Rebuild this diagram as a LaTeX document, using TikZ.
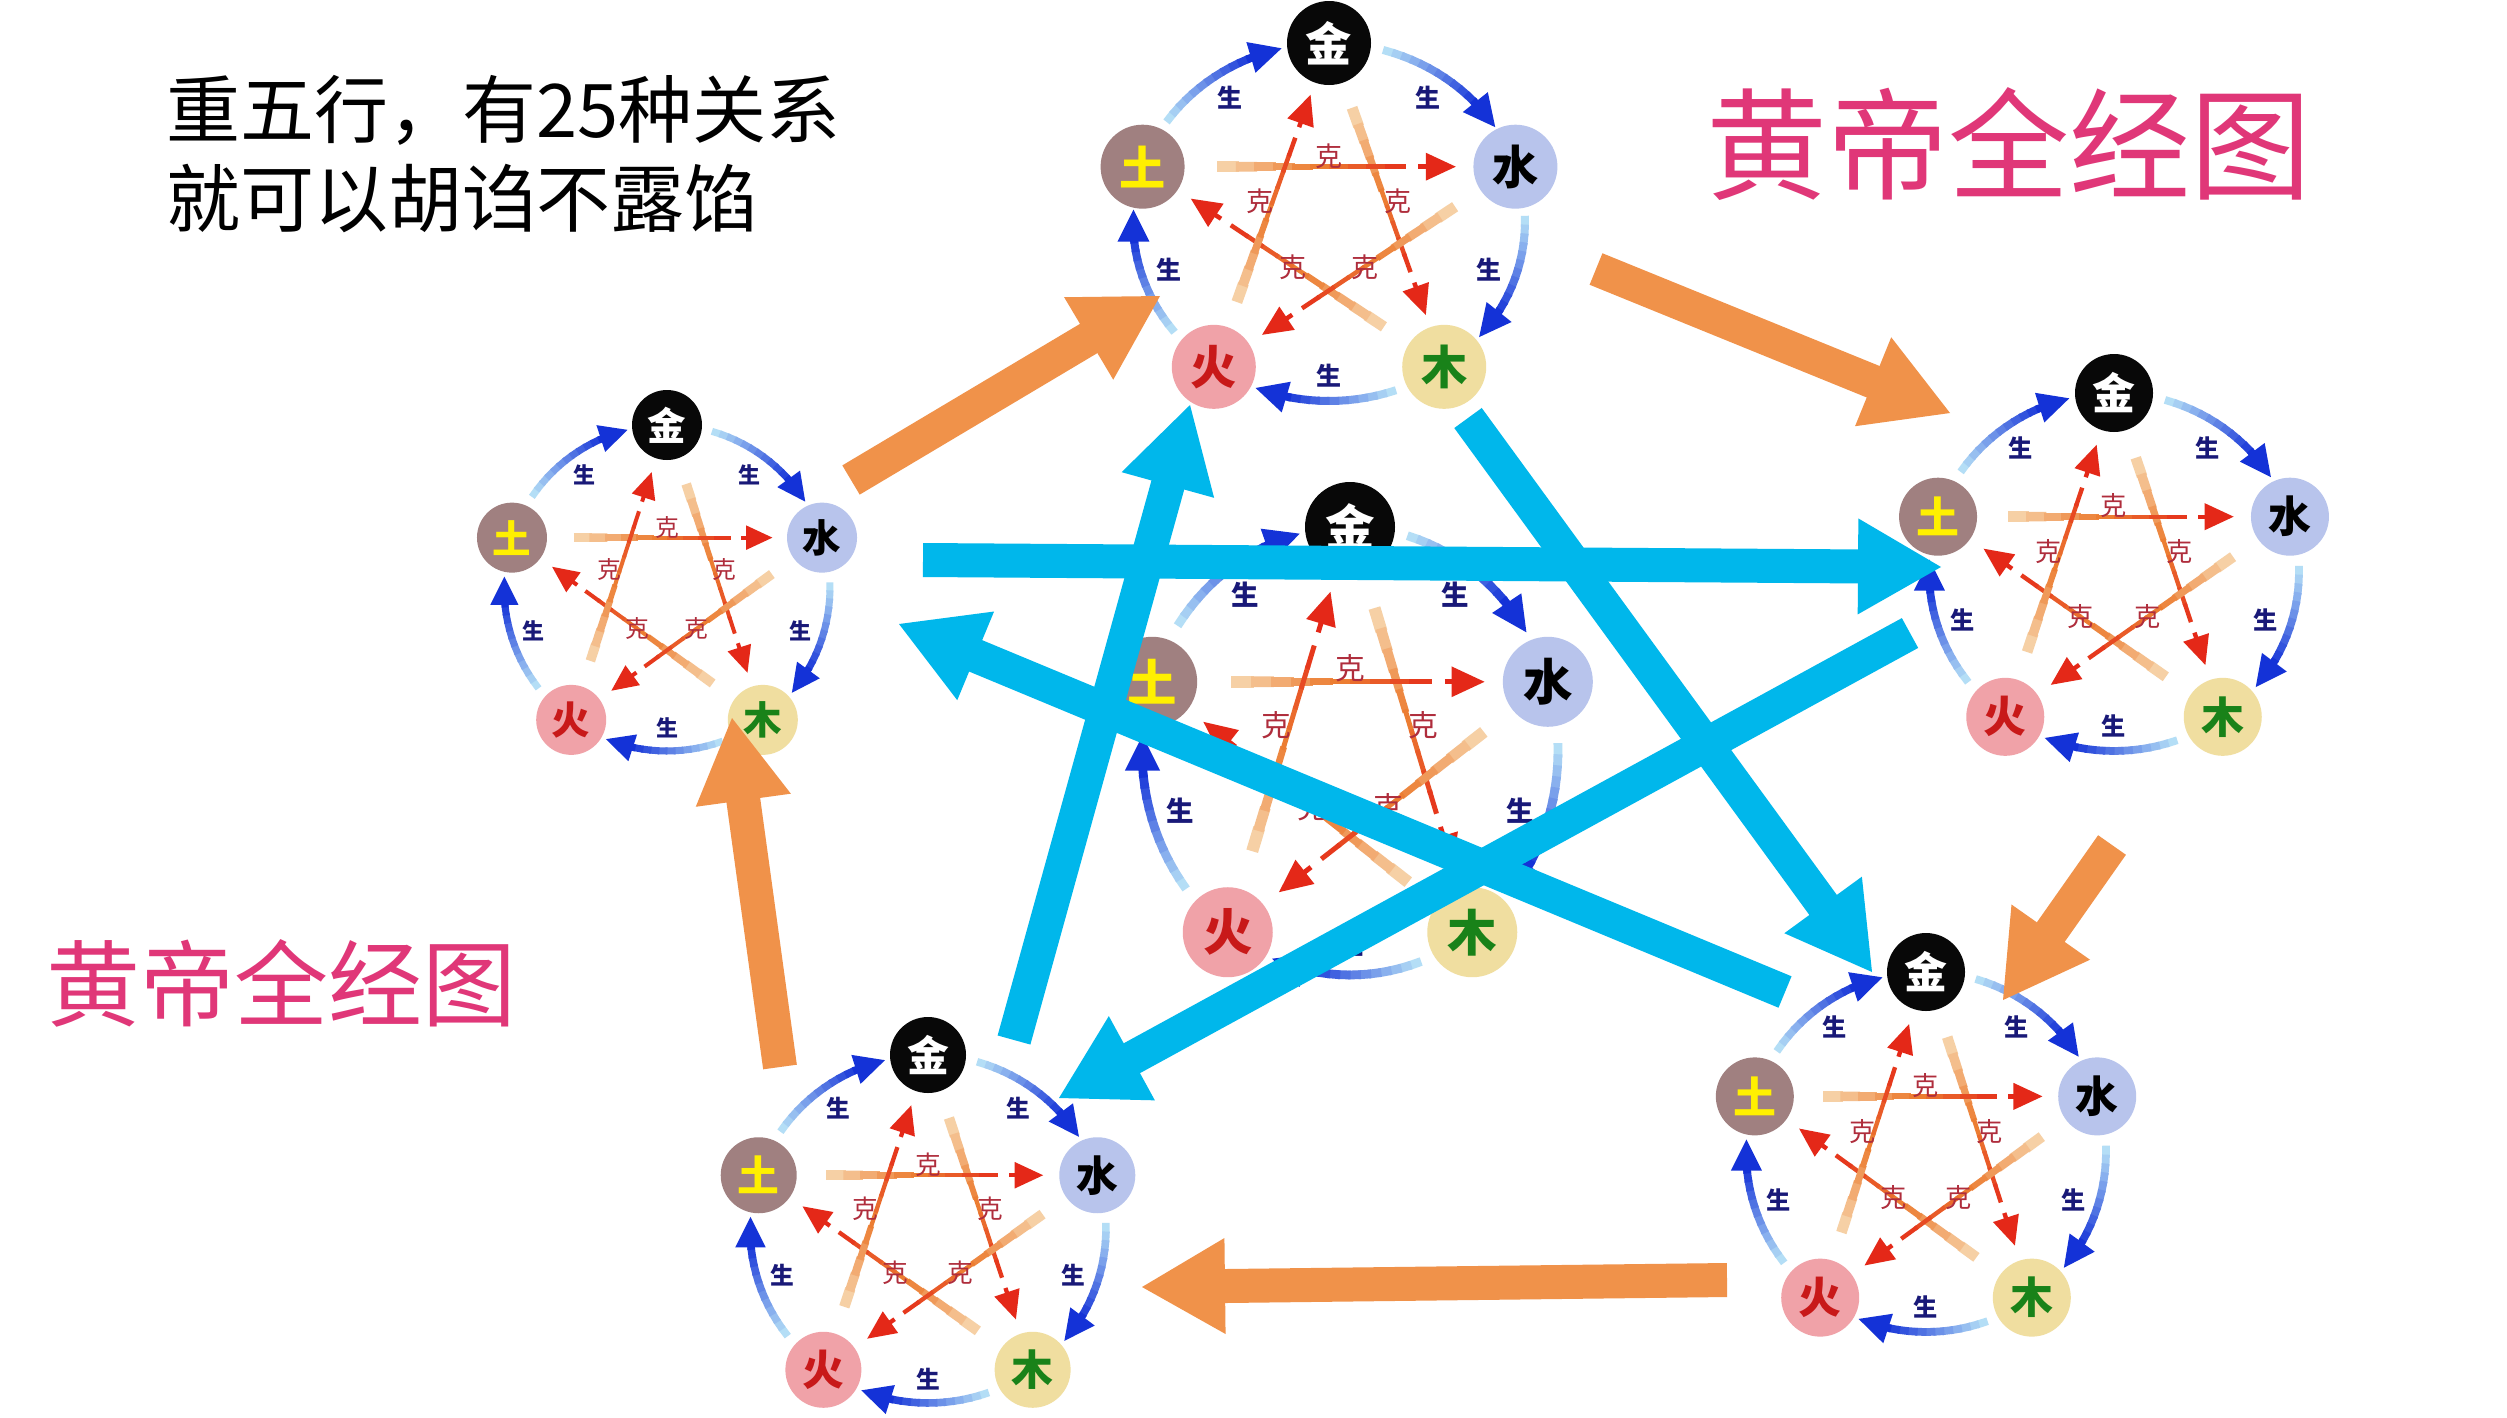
\documentclass[tikz,border=0pt]{standalone}
\usepackage{fontspec}
\newfontfamily\cjk{Noto Sans CJK SC}
\usetikzlibrary{calc}
\definecolor{jinc}{RGB}{8,8,8}
\definecolor{shuic}{RGB}{184,196,236}
\definecolor{muc}{RGB}{240,222,160}
\definecolor{mut}{RGB}{25,130,25}
\definecolor{huoc}{RGB}{240,162,168}
\definecolor{huot}{RGB}{200,25,25}
\definecolor{tuc}{RGB}{160,128,128}
\definecolor{tut}{RGB}{255,240,0}
\definecolor{shengdark}{RGB}{20,50,215}
\definecolor{shenglight}{RGB}{180,222,246}
\definecolor{shengtext}{RGB}{25,25,120}
\definecolor{kelight}{RGB}{246,208,165}
\definecolor{keorange}{RGB}{236,125,50}
\definecolor{kered}{RGB}{228,40,24}
\definecolor{ketext}{RGB}{175,45,60}
\definecolor{orangeA}{RGB}{240,146,74}
\definecolor{blueA}{RGB}{0,183,235}
\definecolor{pinkt}{RGB}{224,55,120}
\tikzset{
  wnode/.style={circle, inner sep=0pt, outer sep=0pt},
  shenglab/.style={text=shengtext, inner sep=0pt},
  kelab/.style={text=ketext, inner sep=0pt},
  orangearrow/.style={color=orangeA, fill=orangeA},
  bluearrow/.style={color=blueA, fill=blueA},
  bigtext/.style={inner sep=0pt, anchor=west},
}
% big block arrow: style, tail, tip
\newcommand\bigarrow[3]{%
  \draw[line width=34pt, #1] (#2) -- ($(#3)!80pt!(#2)$);
  \fill[#1] (#3) -- ($($(#3)!83pt!(#2)$)!48pt!90:(#3)$) -- ($($(#3)!83pt!(#2)$)!48pt!-90:(#3)$) -- cycle;}
% five-element wheel: name, cx, cy, rx, ry, node radius, size scale
\newcommand\wuxing[7]{%
\begin{scope}[shift={(#2,#3)}]
\pgfmathsetlengthmacro\wdiam{2pt*#6}
\pgfmathsetlengthmacro\wfs{1.1pt*#6}
\pgfmathsetlengthmacro\lfs{25pt*#7}
\pgfmathsetlengthmacro\kfs{27pt*#7}
\pgfmathsetlengthmacro\arcw{8pt*#7}
\pgfmathsetlengthmacro\shl{32pt*#7}
\pgfmathsetlengthmacro\shw{16pt*#7}
\pgfmathsetlengthmacro\khl{30pt*#7}
\pgfmathsetlengthmacro\khw{14pt*#7}
\pgfmathsetlengthmacro\kw{4.5pt*#7}
\foreach \nm/\ang in {jin/-90,shui/-18,mu/54,huo/126,tu/198}
  {\coordinate (#1p\nm) at ({#4*cos(\ang)},{#5*sin(\ang)});}
% sheng arcs
\foreach \angA/\angB/\i in {-90/-18/1,-18/54/2,54/126/3,126/198/4,198/270/5}{
  \pgfmathsetmacro\sA{\angA+16}
  \pgfmathsetmacro\eA{\angB-14}
  \pgfmathsetmacro\mA{\eA-8}
  \foreach \kk in {0,...,11}{
    \pgfmathsetmacro\tA{\sA+(\mA-\sA)*\kk/12}
    \pgfmathsetmacro\tB{\sA+(\mA-\sA)*(\kk+1.25)/12}
    \pgfmathtruncatemacro\pc{\kk*100/11}
    \draw[line width=\arcw, color=shengdark!\pc!shenglight] ({#4*cos(\tA)},{#5*sin(\tA)}) -- ({#4*cos(\tB)},{#5*sin(\tB)});
  }
  \coordinate (#1e\i) at ({#4*cos(\eA)},{#5*sin(\eA)});
  \coordinate (#1m\i) at ({#4*cos(\mA)},{#5*sin(\mA)});
  \coordinate (#1b\i) at ($(#1e\i)!\shl!(#1m\i)$);
  \fill[shengdark] (#1e\i) -- ($(#1b\i)!\shw!90:(#1e\i)$) -- ($(#1b\i)!\shw!-90:(#1e\i)$) -- cycle;
  \pgfmathsetmacro\midang{(\angA+\angB)/2}
  \node[shenglab, font=\cjk\bfseries\fontsize{\lfs}{\lfs}\selectfont] (#1sheng\i) at ({0.86*#4*cos(\midang)},{0.86*#5*sin(\midang)}) {生};
}
% ke arrows
\foreach \x/\y/\i in {jin/mu/1,mu/tu/2,tu/shui/3,shui/huo/4,huo/jin/5}{
  \foreach \kk in {0,...,9}{
    \pgfmathsetmacro\tA{0.2+0.05*\kk}
    \pgfmathsetmacro\tB{0.2+0.05*(\kk+1.15)}
    \pgfmathsetlengthmacro\lw{ifthenelse(\kk<5, 11-1.2*\kk, 4.5)*#7*1pt}
    \pgfmathtruncatemacro\pc{ifthenelse(\kk<5, 22*\kk, 20*(\kk-5))}
    \ifnum\kk<5 \def\kcol{keorange!\pc!kelight}\else \def\kcol{kered!\pc!keorange}\fi
    \draw[line width=\lw, color=\kcol] ($(#1p\x)!\tA!(#1p\y)$) -- ($(#1p\x)!\tB!(#1p\y)$);
  }
  \coordinate (#1kt\i) at ($(#1p\x)!0.84!(#1p\y)$);
  \coordinate (#1kb\i) at ($(#1kt\i)!\khl!(#1p\x)$);
  \draw[line width=\kw, kered] ($(#1p\x)!0.74!(#1p\y)$) -- ($(#1kt\i)!\khl-1pt!(#1p\x)$);
  \fill[kered] (#1kt\i) -- ($(#1kb\i)!\khw!90:(#1kt\i)$) -- ($(#1kb\i)!\khw!-90:(#1kt\i)$) -- cycle;
}
\foreach \ang/\rr/\i in {-90/0.37/1,-18/0.37/2,54/0.31/3,126/0.31/4,198/0.37/5}
  {\node[kelab, font=\cjk\fontsize{\kfs}{\kfs}\selectfont] (#1ke\i) at ({\rr*#4*cos(\ang)},{\rr*#5*sin(\ang)}) {克};}
% element nodes
\node[wnode, fill=jinc, text=white, minimum size=\wdiam, font=\cjk\bfseries\fontsize{\wfs}{\wfs}\selectfont] (#1jin) at (#1pjin) {金};
\node[wnode, fill=shuic, text=black, minimum size=\wdiam, font=\cjk\bfseries\fontsize{\wfs}{\wfs}\selectfont] (#1shui) at (#1pshui) {水};
\node[wnode, fill=muc, text=mut, minimum size=\wdiam, font=\cjk\bfseries\fontsize{\wfs}{\wfs}\selectfont] (#1mu) at (#1pmu) {木};
\node[wnode, fill=huoc, text=huot, minimum size=\wdiam, font=\cjk\bfseries\fontsize{\wfs}{\wfs}\selectfont] (#1huo) at (#1phuo) {火};
\node[wnode, fill=tuc, text=tut, minimum size=\wdiam, font=\cjk\bfseries\fontsize{\wfs}{\wfs}\selectfont] (#1tu) at (#1ptu) {土};
\end{scope}}
\begin{document}
\begin{tikzpicture}[x=1pt,y=-1pt]
\useasboundingbox (0,0) rectangle (2507,1417);
\fill[white] (0,0) rectangle (2507,1417);
% wheels
\wuxing{wa}{1329}{222}{196}{179}{42}{1.0}
\wuxing{wb}{667}{588}{163}{163}{35}{0.88}
\wuxing{wc}{1350}{751}{208}{224}{45}{1.1}
\wuxing{wd}{2114}{572}{185}{179}{39}{0.97}
\wuxing{we}{928}{1229}{178}{174}{38}{0.95}
\wuxing{wf}{1926}{1152}{180}{180}{39}{0.97}
% arrow end points
\coordinate (o1a) at (851,480);   \coordinate (o1b) at (1160,296);
\coordinate (o2a) at (1596,269);  \coordinate (o2b) at (1950,413);
\coordinate (o3a) at (2112,845);  \coordinate (o3b) at (2003,1000);
\coordinate (o4a) at (1727,1280); \coordinate (o4b) at (1142,1287);
\coordinate (o5a) at (780,1067);  \coordinate (o5b) at (732,718);
\coordinate (b1a) at (1014,1040); \coordinate (b1b) at (1190,405);
\coordinate (b2a) at (1468,418);  \coordinate (b2b) at (1872,972);
\coordinate (b3a) at (1785,992);  \coordinate (b3b) at (899,624);
\coordinate (b4a) at (923,560);   \coordinate (b4b) at (1941,567);
\coordinate (b5a) at (1910,633);  \coordinate (b5b) at (1059,1098);
% orange arrows
\bigarrow{orangearrow}{o1a}{o1b}
\bigarrow{orangearrow}{o2a}{o2b}
\bigarrow{orangearrow}{o3a}{o3b}
\bigarrow{orangearrow}{o4a}{o4b}
\bigarrow{orangearrow}{o5a}{o5b}
% blue arrows
\bigarrow{bluearrow}{b1a}{b1b}
\bigarrow{bluearrow}{b2a}{b2b}
\bigarrow{bluearrow}{b3a}{b3b}
\bigarrow{bluearrow}{b4a}{b4b}
\bigarrow{bluearrow}{b5a}{b5b}
% texts
\node[bigtext, font=\cjk\fontsize{74pt}{74pt}\selectfont] (t1) at (166,110) {重五行，有25种关系};
\node[bigtext, font=\cjk\fontsize{74pt}{74pt}\selectfont] (t2) at (166,199) {就可以胡诌不露馅};
\node[bigtext, text=pinkt, font=\cjk\fontsize{121pt}{121pt}\selectfont] (t3) at (1706,144) {黄帝全经图};
\node[bigtext, text=pinkt, font=\cjk\fontsize{94pt}{94pt}\selectfont] (t4) at (46,983) {黄帝全经图};
\end{tikzpicture}
\end{document}
